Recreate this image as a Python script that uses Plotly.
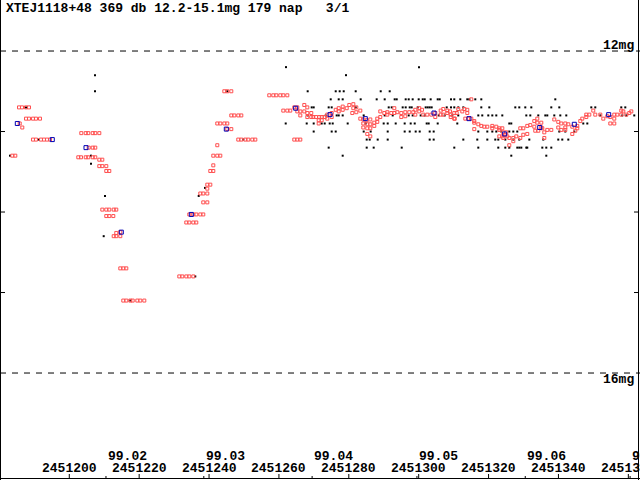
import plotly.graph_objects as go

# light curve of XTE J1118+480, 1999 -- JD values stored as JD - 2451000
JD_BASE = 2451000

# visual estimates (red open squares)
red_jd = [
    185.61, 186.47, 187.61, 188.47,
    187.61, 188.47, 189.61, 190.47, 191.62,
    185.81, 186.55,
    189.61, 190.47, 191.90, 192.76, 193.62, 194.48,
    183.69, 184.55,
    203.44, 204.70, 205.44, 206.70, 207.44, 208.59,
    205.56, 206.70, 207.44,
    202.58, 203.35, 204.70, 205.44, 206.70, 207.44, 208.59, 209.45,
    208.59, 209.45, 210.59, 210.59, 211.45,
    209.45, 210.59, 211.45, 212.71, 213.45,
    210.59, 211.45, 212.60,
    214.60, 213.45, 212.71, 213.45, 214.60,
    214.60, 215.46, 216.32,
    215.46, 216.32, 217.46, 218.15, 219.47, 220.32, 221.47,
    231.49, 232.34, 233.49, 234.35, 235.49,
    233.49, 234.35, 235.49, 236.35,
    234.35, 235.49, 236.35, 237.50, 238.35,
    238.35, 239.50, 237.50, 238.35, 239.50,
    239.50, 239.50, 240.36, 240.36, 241.22, 241.22,
    241.22, 242.36, 243.22, 242.36,
    245.22, 246.37, 242.36, 243.22, 244.37, 245.22,
    246.37, 247.23, 248.37, 249.23,
    244.37, 245.22, 246.37,
    248.37, 249.23, 250.38, 251.23, 252.38, 253.24,
    257.24, 258.39, 259.25, 260.39, 261.25, 262.40,
    264.40, 265.26, 266.12,
    261.25, 262.40, 263.25,
    264.40, 265.26, 265.26, 266.12, 266.12, 267.26, 268.12, 267.26, 268.12, 268.12,
    269.26, 269.26, 269.84, 270.61, 271.55, 271.38, 271.38, 272.24, 272.24, 273.10,
    273.84, 273.84, 275.10, 275.10, 276.25, 277.11, 277.11, 278.25, 278.25, 279.40,
    280.14, 281.29, 281.29, 282.14, 282.14, 281.00, 283.29, 283.29, 284.15, 284.15,
    284.15, 285.12, 285.29, 285.29, 285.29, 286.15, 286.15, 286.15, 286.15, 287.29,
    287.29, 288.15, 288.15, 289.01, 289.01, 290.16, 291.02, 291.02, 292.16, 293.02,
    293.02, 293.88, 295.02, 295.02, 296.17, 296.17, 297.31, 298.46, 299.03, 299.03,
    300.17, 300.17, 300.95, 301.32, 302.46, 303.61, 304.75, 304.75, 306.30, 306.30,
    307.04, 307.04, 308.19, 308.19, 309.16, 309.16, 310.30, 310.88,
    315.06, 308.96, 310.19, 310.19, 311.33, 312.48, 313.05, 313.91, 313.91, 313.34,
    314.20, 315.06, 315.91, 315.91, 315.91, 317.06, 317.92, 318.78, 319.64, 321.07,
    321.07, 322.21, 323.07, 323.07, 323.93, 324.21, 325.07, 323.07, 323.93, 324.79,
    324.21, 325.36, 325.93, 325.93, 327.08, 327.08, 327.94, 329.08, 329.08, 329.94,
    329.94, 331.08, 331.08, 331.94, 333.09, 333.09, 333.95, 333.95, 335.09, 335.09,
    333.37, 334.23, 335.38, 335.95, 335.95, 336.81, 337.95, 338.81, 339.95, 339.95,
    340.81, 340.81, 341.96, 341.96, 341.96, 342.82, 343.96, 343.96, 344.82, 345.39,
    345.39, 346.25, 346.82, 347.97, 347.97, 348.83, 349.97, 350.54, 351.98, 352.84,
    353.98, 354.84, 355.98, 355.98, 355.98, 354.84, 356.84, 357.98, 357.98, 358.56,
    359.42, 360.28, 360.85,
]
red_mag = [
    12.70, 12.70, 12.70, 12.70,
    12.84, 12.84, 12.84, 12.84, 12.84,
    12.90, 12.95,
    13.10, 13.10, 13.10, 13.10, 13.10, 13.10,
    13.30, 13.30,
    13.02, 13.02, 13.02, 13.02, 13.02, 13.02,
    13.20, 13.20, 13.20,
    13.32, 13.32, 13.32, 13.32, 13.32, 13.32, 13.35, 13.35,
    13.43, 13.43, 13.43, 13.49, 13.49,
    13.97, 13.97, 13.97, 13.97, 13.97,
    14.05, 14.05, 14.05,
    14.25, 14.26, 14.30, 14.30, 14.30,
    14.70, 14.70, 14.70,
    15.10, 15.10, 15.10, 15.10, 15.10, 15.10, 15.10,
    14.80, 14.80, 14.80, 14.80, 14.80,
    14.13, 14.13, 14.13, 14.13,
    14.03, 14.03, 14.03, 14.03, 14.03,
    13.88, 13.88, 13.77, 13.77, 13.77,
    13.71, 13.66, 13.66, 13.49, 13.49, 13.42,
    13.30, 13.30, 13.30, 13.17,
    12.97, 12.97, 12.90, 12.90, 12.90, 12.90,
    12.80, 12.80, 12.80, 12.80,
    12.50, 12.50, 12.50,
    13.10, 13.10, 13.10, 13.10, 13.10, 13.10,
    12.55, 12.55, 12.55, 12.55, 12.55, 12.55,
    13.10, 13.10, 13.10,
    12.74, 12.74, 12.74,
    12.70, 12.70, 12.75, 12.75, 12.80, 12.67, 12.70, 12.75, 12.77, 12.82,
    12.77, 12.82, 12.82, 12.82, 12.82, 12.86, 12.90, 12.82, 12.86, 12.82,
    12.79, 12.84, 12.77, 12.82, 12.73, 12.75, 12.71, 12.69, 12.73, 12.71,
    12.67, 12.66, 12.71, 12.70, 12.76, 12.77, 12.74, 12.84, 12.85, 12.90,
    12.95, 12.86, 12.91, 12.96, 13.03, 12.85, 12.91, 12.96, 13.06, 12.89,
    12.93, 12.88, 12.84, 12.75, 12.82, 12.77, 12.76, 12.79, 12.77, 12.71,
    12.77, 12.76, 12.77, 12.82, 12.76, 12.81, 12.76, 12.76, 12.73, 12.79,
    12.71, 12.75, 12.73, 12.79, 12.79, 12.79, 12.77, 12.82, 12.74, 12.79,
    12.72, 12.79, 12.74, 12.77, 12.79, 12.82, 12.84, 12.77,
    12.60, 12.75, 12.77, 12.84, 12.72, 12.75, 12.72, 12.73, 12.77, 12.84,
    12.84, 12.84, 12.87, 12.89, 12.97, 12.91, 12.93, 12.94, 12.94, 12.93,
    12.96, 12.94, 12.96, 12.98, 12.96, 13.01, 13.01, 13.06, 13.06, 13.04,
    13.08, 13.06, 13.08, 13.17, 13.08, 13.12, 13.06, 13.08, 12.96, 12.96,
    13.04, 13.03, 12.93, 12.92, 12.87, 12.94, 12.84, 12.89, 12.89, 12.95,
    12.99, 12.99, 12.96, 13.01, 13.08, 12.98, 12.98, 12.85, 12.88, 12.95,
    12.90, 12.98, 12.90, 12.95, 12.98, 12.91, 12.94, 13.03, 12.99, 12.96,
    12.93, 12.87, 12.84, 12.82, 12.79, 12.79, 12.74, 12.79, 12.79, 12.84,
    12.81, 12.82, 12.79, 12.84, 12.90, 12.90, 12.79, 12.74, 12.79, 12.75,
    12.79, 12.77, 12.75,
]

# other observations (small black dots)
black_jd = [
    183.03, 191.13, 187.61, 207.36, 207.36, 206.21, 206.21, 210.22, 209.85, 217.46,
    245.22, 249.80, 238.84, 237.04, 236.06, 262.02, 300.09, 279.20,
    268.23, 276.25, 277.39, 278.54, 281.97, 289.13, 291.70,
    274.82, 277.11, 278.25, 283.40, 287.98, 290.27, 293.13, 293.71, 296.28, 297.14,
    298.28, 300.00, 301.15, 301.72, 303.43, 305.44, 306.01, 309.25, 310.19, 311.91,
    313.91, 314.48, 316.20, 317.92, 339.10,
    269.38, 269.95, 274.24, 275.10, 281.97, 291.42, 292.28, 295.42, 296.28, 297.43,
    298.00, 299.72, 302.00, 302.58, 303.15, 303.72, 308.02, 309.25, 310.19, 311.33,
    312.77, 317.92, 320.21, 327.65, 328.79, 330.51, 332.23, 337.95, 340.24, 349.40,
    350.54, 357.98, 359.13,
    268.23, 273.39, 276.53, 277.11, 278.25, 284.26, 290.27, 292.56, 297.14, 298.28,
    300.57, 301.72, 305.73, 307.44, 309.62, 311.33, 317.06, 318.20, 319.92, 321.07,
    322.21, 323.93, 330.80, 331.94, 334.23, 336.24, 336.81, 338.81, 340.53, 342.24,
    351.98, 358.27, 359.42, 361.70,
    261.94, 267.95, 269.95, 272.24, 273.10, 274.53, 275.39, 279.68, 284.83, 289.98,
    291.13, 293.42, 295.99, 297.71, 298.86, 302.29, 302.86, 305.44, 311.05, 325.93,
    326.50, 347.11, 348.26,
    269.95, 275.10, 276.25, 284.26, 286.26, 291.13, 295.99, 297.43, 299.14, 300.29,
    303.15, 304.29, 317.06, 319.64, 321.07, 322.21, 323.64, 325.93, 327.08, 328.22,
    340.24, 341.96, 344.54,
    285.12, 285.98, 288.27, 291.13, 303.15, 304.29, 312.77, 316.77, 319.64, 321.92,
    322.78, 324.79, 327.08, 328.79, 331.66, 335.66, 339.95, 341.10, 342.82,
    274.24, 285.12, 287.12, 295.14, 310.19, 317.06, 322.78, 324.79, 325.93, 328.22,
    328.79, 329.37, 330.80, 331.08, 335.38, 336.52, 337.95,
    278.25, 326.50, 336.52,
]
black_mag = [
    13.3, 13.1, 12.7, 12.3, 12.5, 13.3, 13.4, 13.8, 14.3, 15.1,
    12.5, 13.1, 13.7, 13.8, 14.8, 12.2, 12.2, 12.3,
    12.5, 12.5, 12.5, 12.5, 12.5, 12.5, 12.5,
    12.6, 12.6, 12.6, 12.6, 12.6, 12.6, 12.6, 12.6, 12.6, 12.6,
    12.6, 12.6, 12.6, 12.6, 12.6, 12.6, 12.6, 12.6, 12.6, 12.6,
    12.6, 12.6, 12.6, 12.6, 12.6,
    12.7, 12.7, 12.7, 12.7, 12.7, 12.7, 12.7, 12.7, 12.7, 12.7,
    12.7, 12.7, 12.7, 12.7, 12.7, 12.7, 12.7, 12.7, 12.7, 12.7,
    12.7, 12.7, 12.7, 12.7, 12.7, 12.7, 12.7, 12.7, 12.7, 12.7,
    12.7, 12.7, 12.7,
    12.8, 12.8, 12.8, 12.8, 12.8, 12.8, 12.8, 12.8, 12.8, 12.8,
    12.8, 12.8, 12.8, 12.8, 12.8, 12.8, 12.8, 12.8, 12.8, 12.8,
    12.8, 12.8, 12.8, 12.8, 12.8, 12.8, 12.8, 12.8, 12.8, 12.8,
    12.8, 12.8, 12.8, 12.8,
    12.9, 12.9, 12.9, 12.9, 12.9, 12.9, 12.9, 12.9, 12.9, 12.9,
    12.9, 12.9, 12.9, 12.9, 12.9, 12.9, 12.9, 12.9, 12.9, 12.9,
    12.9, 12.9, 12.9,
    13.0, 13.0, 13.0, 13.0, 13.0, 13.0, 13.0, 13.0, 13.0, 13.0,
    13.0, 13.0, 13.0, 13.0, 13.0, 13.0, 13.0, 13.0, 13.0, 13.0,
    13.0, 13.0, 13.0,
    13.1, 13.1, 13.1, 13.1, 13.1, 13.1, 13.1, 13.1, 13.1, 13.1,
    13.1, 13.1, 13.1, 13.1, 13.1, 13.1, 13.1, 13.1, 13.1,
    13.2, 13.2, 13.2, 13.2, 13.2, 13.2, 13.2, 13.2, 13.2, 13.2,
    13.2, 13.2, 13.2, 13.2, 13.2, 13.2, 13.2,
    13.3, 13.3, 13.3,
]

# 10-day means (blue open squares)
blue_jd = [185.12, 195.14, 204.78, 214.89, 234.92, 244.94, 264.80, 274.62,
           284.72, 304.38, 314.40, 324.61, 334.63, 344.54, 354.38]
blue_mag = [12.90, 13.10, 13.20, 14.25, 14.03, 12.97, 12.71, 12.79,
            12.84, 12.77, 12.84, 13.03, 12.95, 12.91, 12.79]

# axis labelling
jd_ticks = [2451200, 2451220, 2451240, 2451260, 2451280, 2451300, 2451320, 2451340, 2451360]
month_ticks = [2451210.5, 2451238.5, 2451269.5, 2451299.5, 2451330.5, 2451360.5]
month_labels = ["99.02", "99.03", "99.04", "99.05", "99.06", "99.07"]
mag_ticks = [13, 14, 15]
mag_lines = [12, 16]
title = "XTEJ1118+48 369 db 12.2-15.1mg 179 nap\u00a0\u00a0\u00a03/1"

W, H = 640, 480
x_range = [2451180.17, 2451363.34]
y_range = [17.329, 11.366]
font = dict(family="Liberation Mono", size=13, color="black", weight="bold")


def py(pix):
    # pixel row -> paper y
    return 1 - pix / H


fig = go.Figure()
fig.add_trace(go.Scatter(
    x=[JD_BASE + j for j in black_jd], y=black_mag, mode="markers",
    marker=dict(symbol="square", size=2, color="black", line=dict(width=0)),
))
fig.add_trace(go.Scatter(
    x=[JD_BASE + j for j in red_jd], y=red_mag, mode="markers",
    marker=dict(symbol="square-open", size=3, color="#ff4f4f", line=dict(width=1)),
))
fig.add_trace(go.Scatter(
    x=[JD_BASE + j for j in blue_jd], y=blue_mag, mode="markers",
    marker=dict(symbol="square-open", size=4, color="#0000b4", line=dict(width=1)),
))

shapes = []
for m in mag_lines:
    shapes.append(dict(type="line", xref="paper", yref="y", x0=0, x1=1, y0=m, y1=m,
                       line=dict(color="black", width=1, dash="6px,6px")))
for m in mag_ticks:
    shapes.append(dict(type="line", xref="paper", yref="y", x0=0, x1=5 / W, y0=m, y1=m,
                       line=dict(color="black", width=1)))
    shapes.append(dict(type="line", xref="paper", yref="y", x0=634 / W, x1=638.5 / W, y0=m, y1=m,
                       line=dict(color="black", width=1)))
for t in jd_ticks:
    shapes.append(dict(type="line", xref="x", yref="paper", x0=t, x1=t, y0=py(478.5), y1=py(474),
                       line=dict(color="black", width=1)))
for t in month_ticks:
    shapes.append(dict(type="line", xref="x", yref="paper", x0=t, x1=t, y0=py(478.5), y1=py(476),
                       line=dict(color="black", width=1)))
# frame: left, right, bottom
frame = dict(color="black", width=1)
shapes.append(dict(type="line", xref="paper", yref="paper", x0=0.5 / W, x1=0.5 / W, y0=0, y1=1, line=frame))
shapes.append(dict(type="line", xref="paper", yref="paper", x0=638.5 / W, x1=638.5 / W, y0=0, y1=1, line=frame))
shapes.append(dict(type="line", xref="paper", yref="paper", x0=0, x1=1, y0=py(478.5), y1=py(478.5), line=frame))

annotations = [
    dict(text=title, xref="paper", yref="paper", x=4 / W, y=py(8.5),
         xanchor="left", yanchor="middle", showarrow=False, font=font),
    dict(text="12mg", xref="paper", yref="paper", x=636 / W, y=py(45),
         xanchor="right", yanchor="middle", showarrow=False, font=font),
    dict(text="16mg", xref="paper", yref="paper", x=636 / W, y=py(379.5),
         xanchor="right", yanchor="middle", showarrow=False, font=font),
]
for t in jd_ticks:
    annotations.append(dict(text=str(t), xref="x", yref="paper", x=t, y=py(468),
                            xanchor="center", yanchor="middle", showarrow=False, font=font))
for t, lab in zip(month_ticks, month_labels):
    annotations.append(dict(text=lab, xref="x", yref="paper", x=t, y=py(456.5),
                            xanchor="left", yanchor="middle", showarrow=False, font=font))

fig.update_layout(
    width=W, height=H, margin=dict(l=0, r=0, t=0, b=0),
    paper_bgcolor="white", plot_bgcolor="white", showlegend=False,
    xaxis=dict(range=x_range, visible=False),
    yaxis=dict(range=y_range, visible=False),
    shapes=shapes, annotations=annotations,
)

fig.write_html("out.html", config={"displayModeBar": False},
               post_script="document.body.style.margin='0';document.body.style.overflow='hidden';")
